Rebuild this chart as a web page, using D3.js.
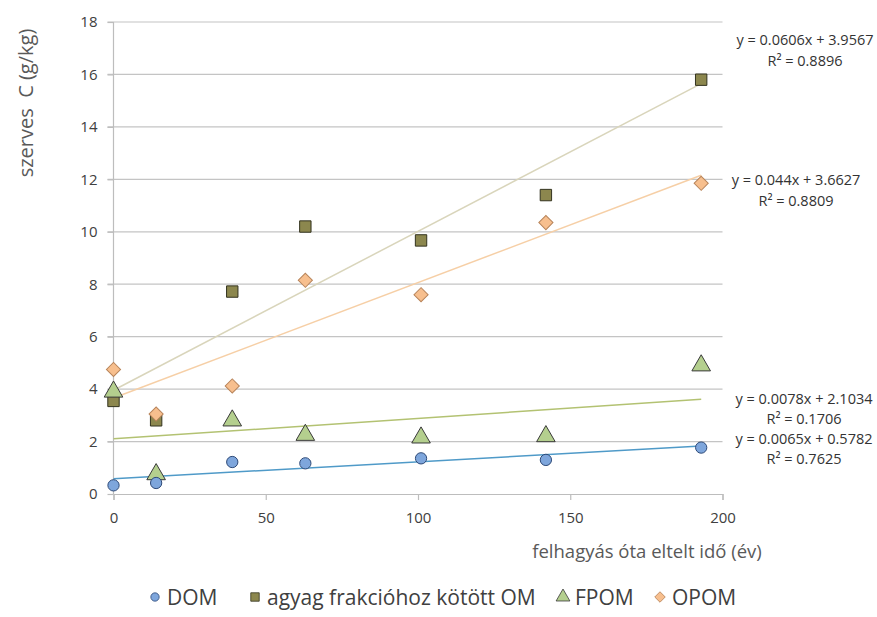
<!DOCTYPE html>
<html>
<head>
<meta charset="utf-8">
<script src="https://cdn.jsdelivr.net/npm/d3@7"></script>
<style>
  body { margin: 0; background: #fff; }
  text { font-family: "Open Sans", sans-serif; }
</style>
</head>
<body>
<script>
const w = 877;
const h = 617;

// data
const years = [0, 14, 39, 63, 101, 142, 193];
const dom = [0.33, 0.42, 1.22, 1.17, 1.36, 1.3, 1.77];
const agyag = [3.55, 2.81, 7.72, 10.2, 9.67, 11.4, 15.8];
const fpom = [3.9, 0.75, 2.8, 2.25, 2.15, 2.2, 4.9];
const opom = [4.75, 3.05, 4.12, 8.15, 7.6, 10.35, 11.85];

const seriesNames = ["DOM", "agyag frakcióhoz kötött OM", "FPOM", "OPOM"];
const slopes = [0.0065, 0.0606, 0.0078, 0.044];
const intercepts = [0.5782, 3.9567, 2.1034, 3.6627];
const r2 = ["0.7625", "0.8896", "0.1706", "0.8809"];
const eqLabels = ["y = 0.0065x + 0.5782", "y = 0.0606x + 3.9567", "y = 0.0078x + 2.1034", "y = 0.044x + 3.6627"];
const xTicks = [0, 50, 100, 150, 200];
const yTicks = [0, 2, 4, 6, 8, 10, 12, 14, 16, 18];

const styles = [
  { shape: d3.symbolCircle, size: 100, rot: 0, fill: "#7ea6dc", stroke: "#2e4a78", line: "#4f9ac8" },
  { shape: d3.symbolSquare, size: 130, rot: 0, fill: "#8c874e", stroke: "#33331f", line: "#d9d5bb" },
  { shape: d3.symbolTriangle, size: 150, rot: 0, fill: "#b4cf8e", stroke: "#3a3a3a", line: "#b3c272" },
  { shape: d3.symbolSquare, size: 100, rot: 45, fill: "#f7bf8e", stroke: "#b8845a", line: "#f6cfa6" }
];
// equation label centres [x, y] and R² line offsets
const eqPos = [[804, 439], [805, 40], [804, 399], [796, 180]];
const r2Gap = [20, 21, 20, 21];

const svg = d3.select("body").append("svg").attr("width", w).attr("height", h);

const xScale = d3.scaleLinear().domain([0, 200]).range([113.5, 722.5]);
const yScale = d3.scaleLinear().domain([0, 18]).range([494, 22]);

// gridlines
svg.append("g")
  .selectAll("line")
  .data(yTicks.slice(1))
  .enter()
  .append("line")
  .attr("x1", xScale(0) - 6)
  .attr("x2", xScale(200))
  .attr("y1", (d) => yScale(d))
  .attr("y2", (d) => yScale(d))
  .attr("stroke", "#c4c4c4")
  .attr("stroke-width", 1.2);

// axes
const xAxis = d3.axisBottom(xScale).tickValues(xTicks).tickSize(6).tickPadding(12);
const yAxis = d3.axisLeft(yScale).tickValues(yTicks).tickSize(6).tickPadding(10);

const gx = svg.append("g")
  .attr("transform", "translate(0," + yScale(0) + ")")
  .call(xAxis);
const gy = svg.append("g")
  .attr("transform", "translate(" + xScale(0) + ",0)")
  .call(yAxis);

[gx, gy].forEach((g) => {
  g.select(".domain").attr("stroke", "#bdbdbd").attr("stroke-width", 1.2);
  g.selectAll(".tick line").attr("stroke", "#bdbdbd").attr("stroke-width", 1.2);
  g.selectAll(".tick text")
    .attr("fill", "#404040")
    .style("font-size", "15px")
    .style("font-family", "'Open Sans', sans-serif");
});
gy.select(".domain").attr("d", "M0," + yScale(18) + "V" + yScale(0));

// trendlines
const allSeries = [dom, agyag, fpom, opom];
svg.append("g")
  .selectAll("line")
  .data(slopes)
  .enter()
  .append("line")
  .attr("x1", xScale(0))
  .attr("x2", xScale(years[years.length - 1]))
  .attr("y1", (d, i) => yScale(intercepts[i]))
  .attr("y2", (d, i) => yScale(intercepts[i] + d * years[years.length - 1]))
  .attr("stroke", (d, i) => styles[i].line)
  .attr("stroke-width", 1.5);

// markers, in the overlap order of the picture
const drawOrder = [1, 3, 2, 0];
drawOrder.forEach((si) => {
  const st = styles[si];
  svg.append("g")
    .selectAll("path")
    .data(allSeries[si])
    .enter()
    .append("path")
    .attr("d", d3.symbol().type(st.shape).size(st.size))
    .attr("transform", (d, i) => "translate(" + xScale(years[i]) + "," + yScale(d) + ") rotate(" + st.rot + ")")
    .attr("fill", st.fill)
    .attr("stroke", st.stroke)
    .attr("stroke-width", 1);
});

// equations
eqLabels.forEach((t, i) => {
  svg.append("text")
    .attr("x", eqPos[i][0])
    .attr("y", eqPos[i][1] + 5)
    .attr("text-anchor", "middle")
    .attr("fill", "#333")
    .style("font-size", "14.5px")
    .text(t);
  svg.append("text")
    .attr("x", eqPos[i][0])
    .attr("y", eqPos[i][1] + 5 + r2Gap[i])
    .attr("text-anchor", "middle")
    .attr("fill", "#333")
    .style("font-size", "14.5px")
    .text("R² = " + r2[i]);
});

// axis titles
svg.append("text")
  .attr("transform", "translate(33,103) rotate(-90)")
  .attr("text-anchor", "middle")
  .attr("fill", "#595959")
  .style("font-size", "20px")
  .text("szerves\u00a0 C (g/kg)");

svg.append("text")
  .attr("x", 647)
  .attr("y", 558)
  .attr("text-anchor", "middle")
  .attr("fill", "#595959")
  .style("font-size", "18.5px")
  .text("felhagyás óta eltelt idő (év)");

// legend
const legendX = [155, 255, 563, 660];
const legendG = svg.append("g");
seriesNames.forEach((name, i) => {
  const st = styles[i];
  legendG.append("path")
    .attr("d", d3.symbol().type(st.shape).size(st.size * 0.55))
    .attr("transform", "translate(" + legendX[i] + ",597) rotate(" + st.rot + ")")
    .attr("fill", st.fill)
    .attr("stroke", st.stroke)
    .attr("stroke-width", 0.8);
  legendG.append("text")
    .attr("x", legendX[i] + 12)
    .attr("y", 604.5)
    .attr("fill", "#404040")
    .style("font-size", "21px")
    .text(name);
});
</script>
</body>
</html>
